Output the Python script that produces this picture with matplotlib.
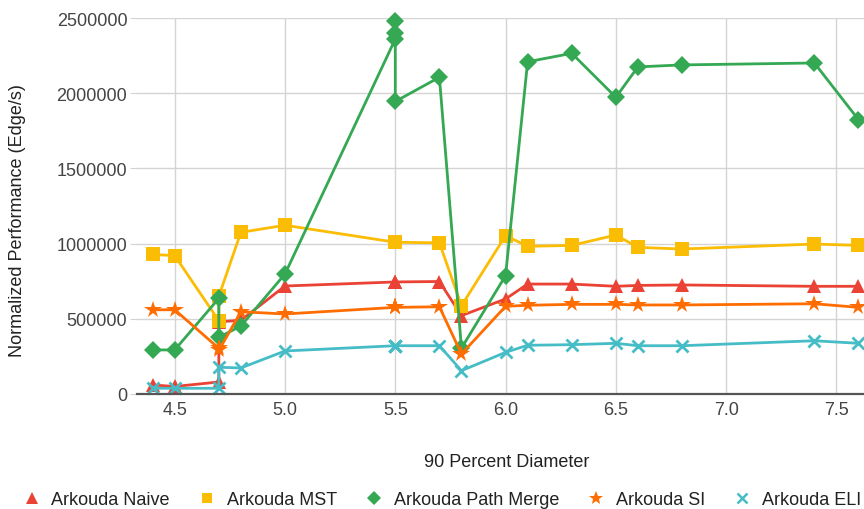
import matplotlib
matplotlib.use("Agg")
import matplotlib.pyplot as plt
from matplotlib.lines import Line2D

plt.rcParams['font.family'] = ['Liberation Sans', 'DejaVu Sans']

# 90 percent effective diameter of each graph (some graphs share a diameter)
diameter = [4.4, 4.5, 4.7, 4.7, 4.8, 5.0, 5.5, 5.5, 5.5, 5.5,
            5.7, 5.8, 6.0, 6.1, 6.3, 6.5, 6.6, 6.8, 7.4, 7.6]

naive = [60000, 50000, 80000, 480000, 490000, 718000, 745000, 745000, 745000, 745000,
         748000, 521000, 632000, 731000, 731000, 716000, 722000, 725000, 716000, 716000]
mst = [928000, 920000, 487000, 650000, 1075000, 1122000, 1009000, 1009000, 1009000, 1009000,
       1005000, 587000, 1053000, 982000, 988000, 1057000, 975000, 964000, 997000, 988000]
path_merge = [293000, 293000, 636000, 377000, 452000, 798000, 2360000, 2480000, 2400000, 1945000,
              2106000, 305000, 787000, 2209000, 2265000, 1973000, 2175000, 2188000, 2201000, 1824000]
si = [560000, 560000, 304000, 290000, 547000, 532000, 576000, 576000, 576000, 576000,
      580000, 266000, 583000, 590000, 596000, 596000, 592000, 592000, 600000, 576000]
eli = [38000, 38000, 38000, 178000, 173000, 286000, 321000, 321000, 321000, 321000,
       321000, 155000, 277000, 324000, 328000, 337000, 321000, 321000, 354000, 337000]

series_names = ["Arkouda Naive", "Arkouda MST", "Arkouda Path Merge", "Arkouda SI", "Arkouda ELI"]
series_values = [naive, mst, path_merge, si, eli]
colors = ["#ea4335", "#fbbc04", "#34a853", "#ff6d01", "#46bdc6"]
markers = ["^", "s", "D", "*", "x"]
msizes = [10, 9.5, 9, 13, 9]

x_ticks = [4.5, 5.0, 5.5, 6.0, 6.5, 7.0, 7.5]
y_ticks = [0, 500000, 1000000, 1500000, 2000000, 2500000]

FS = 13

fig = plt.figure(figsize=(8.64, 5.10), dpi=100)
ax = fig.add_axes([137 / 864, 115 / 510, 727 / 864, 376 / 510])

for name, vals, c, m, ms in zip(series_names, series_values, colors, markers, msizes):
    mew = 2.0 if m == "x" else 0
    ax.plot(diameter, vals, color=c, lw=2.0, marker=m, markersize=ms,
            markeredgewidth=mew, markeredgecolor=c, label=name,
            clip_on=False, zorder=3)

ax.set_xlim(4.329, 7.625)
ax.set_ylim(0, 2500000)
ax.set_xticks(x_ticks)
ax.set_xticklabels([f"{t:.1f}" for t in x_ticks])
ax.set_yticks(y_ticks)
ax.set_yticklabels([str(t) for t in y_ticks])

ax.grid(True, color="#d4d4d4", lw=1.0, zorder=0)
for s in ["top", "right", "left"]:
    ax.spines[s].set_visible(False)
ax.spines["bottom"].set_color("#555555")
ax.spines["bottom"].set_linewidth(1.6)
ax.spines["bottom"].set_zorder(4)
ax.tick_params(axis="x", length=0, pad=5, labelsize=FS, labelcolor="#444444")
ax.tick_params(axis="y", length=5, color="#d4d4d4", pad=2, labelsize=FS, labelcolor="#444444")

fig.text(507 / 864, 1 - 463 / 510, "90 Percent Diameter", ha="center", va="center",
         fontsize=FS, color="#222222")
fig.text(18 / 864, 1 - 221 / 510, "Normalized Performance (Edge/s)", ha="center",
         va="center", rotation=90, fontsize=FS, color="#222222")

handles = [Line2D([], [], color=c, marker=m, linestyle="none", markersize=ms * 0.8,
                  markeredgewidth=(1.8 if m == "x" else 0), markeredgecolor=c)
           for c, m, ms in zip(colors, markers, msizes)]
fig.legend(handles, series_names, loc="center", bbox_to_anchor=(442 / 864, 1 - 501 / 510),
           ncol=5, frameon=False, fontsize=FS, handlelength=1.0, handletextpad=0.6,
           columnspacing=1.55, borderaxespad=0, borderpad=0, labelcolor="#222222")

fig.savefig("out.png", dpi=100)
